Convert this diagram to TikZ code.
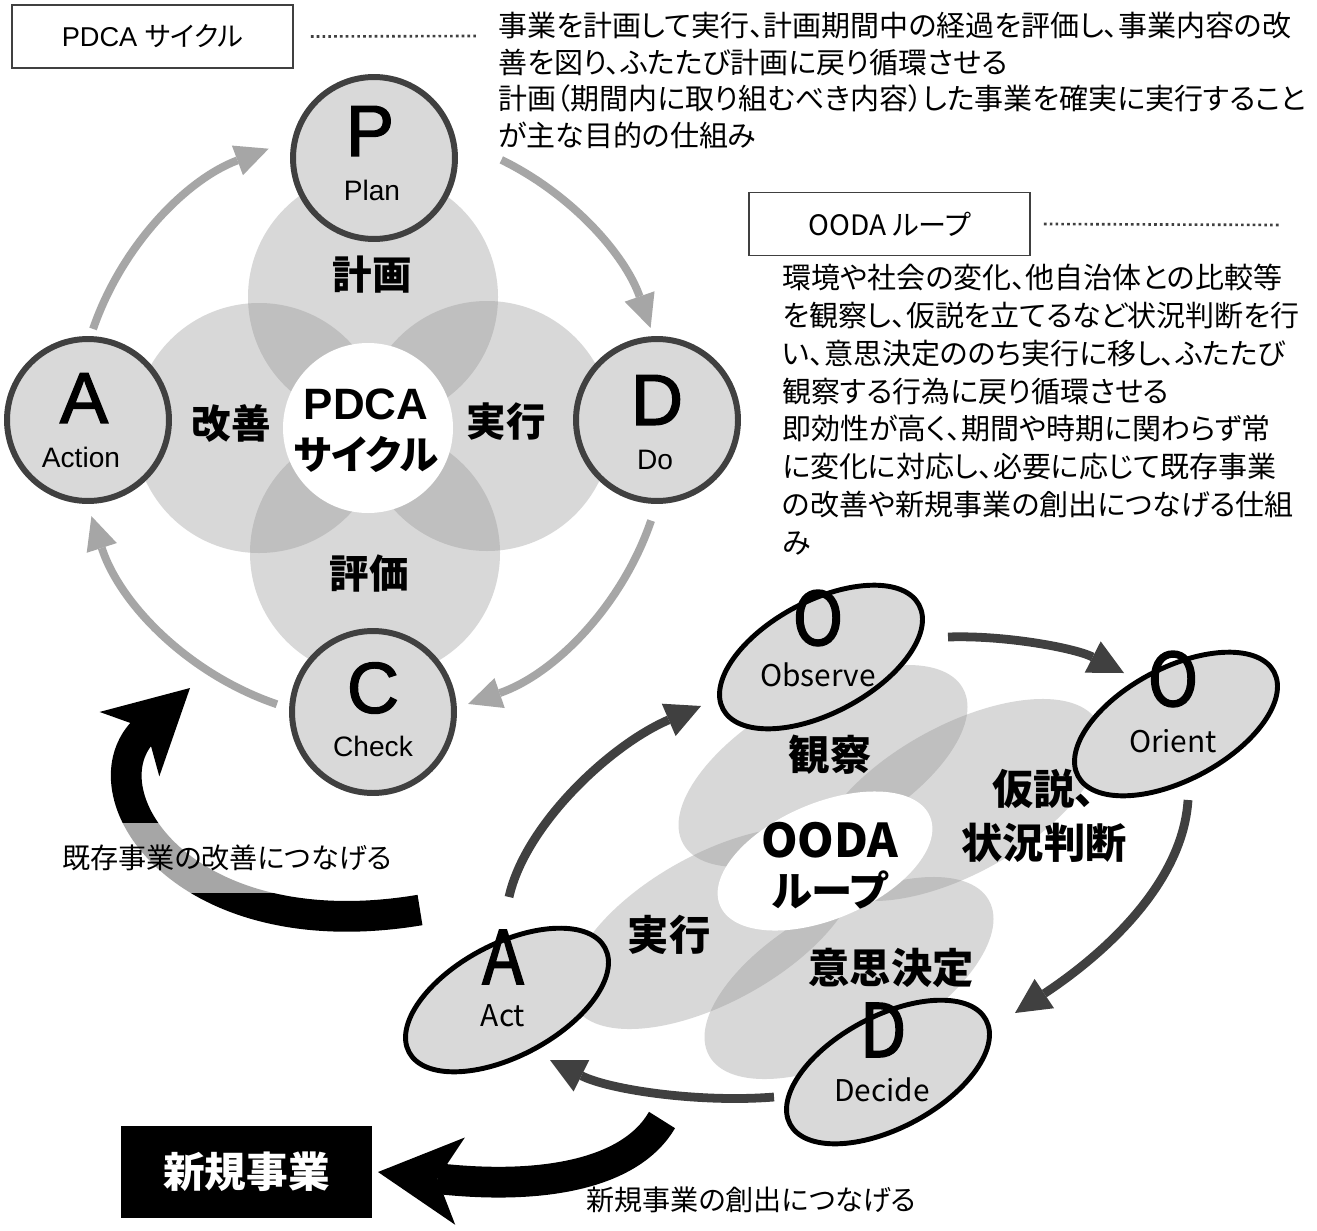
\documentclass[tikz,border=0pt]{standalone}
\usepackage{fontspec}
\usepackage{graphicx}
\usetikzlibrary{shapes.geometric,arrows.meta,calc}
\newfontfamily\jp{Noto Sans CJK JP}[RawFeature=+palt]
\newfontfamily\ar{Liberation Sans}
\newfontfamily\arfb{Liberation Sans}[FakeBold=2]
\newfontfamily\src{Noto Sans CJK JP}
\newfontfamily\srcfb{Noto Sans CJK JP}[FakeBold=2]
\newcommand\setfs[2]{\fontsize{#1}{#2}\selectfont}
\definecolor{dg}{HTML}{404040}
\definecolor{lg}{HTML}{D9D9D9}
\definecolor{ag}{HTML}{A6A6A6}
\begin{document}
\begin{tikzpicture}[x=0.02cm,y=-0.02cm,
  petal/.style={fill=black!44, fill opacity=0.34},
  pcirc/.style={circle, draw=dg, line width=3.4pt, fill=lg, minimum size=3.24cm, inner sep=0pt},
  oell/.style={ellipse, draw=black, line width=2.8pt, fill=lg, minimum width=4.44cm, minimum height=2.24cm, inner sep=0pt, rotate=28},
  parrow/.style={draw=ag, line width=4.5pt, -{Triangle[length=19pt,width=18pt,line width=0pt]}},
  oarrow/.style={draw=dg, line width=5pt, -{Triangle[length=20pt,width=20pt,line width=0pt]}},
  barrow/.style={draw=black, line width=17.5pt, -{Stealth[length=47pt,width=50pt,inset=13pt,line width=0pt]}},
  tbox/.style={draw=dg, line width=1.1pt, minimum width=5.62cm, minimum height=1.26cm, inner sep=0pt},
  dots/.style={draw=dg, line width=1.5pt, dash pattern=on 1.5pt off 1.8pt},
  desc/.style={font=\jp\setfs{16.5}{20.8}, align=left, inner sep=0pt, anchor=north west},
  plab/.style={font=\jp\bfseries\setfs{22.5}{27}, inner sep=0pt},
  big/.style={font=\arfb\setfs{41}{43}, inner sep=0pt},
  small/.style={font=\ar\setfs{16}{18}, inner sep=0pt},
  obig/.style={font=\srcfb\setfs{42}{45}, inner sep=0pt},
  osmall/.style={font=\src\setfs{17}{19}, inner sep=0pt},
  alab/.style={font=\jp\setfs{16}{19}, inner sep=0pt},
]
\fill[white] (0,0) rectangle (1317,1230);
\useasboundingbox (0,0) rectangle (1317,1230);

% ---------- headers ----------
\node[tbox] (pdcabox) at (152.5,36.5) {\setfs{15.5}{18}\ar PDCA {\jp サイクル}};
\coordinate (d1b) at (478,36);
\draw[dots] ($(pdcabox.east)+(17,0)$) -- (d1b);
\node[desc] (pdcatext) at (498,12) {事業を計画して実行、計画期間中の経過を評価し、事業内容の改\\善を図り、ふたたび計画に戻り循環させる\\計画（期間内に取り組むべき内容）した事業を確実に実行すること\\が主な目的の仕組み};

\node[tbox] (oodabox) at (889.5,224) {\setfs{16}{18}\src OODA {\jp ループ}};
\coordinate (d2b) at (1279,225);
\draw[dots] ($(oodabox.east)+(13,0)$) -- (d2b);
\node[desc, font=\jp\setfs{16.5}{21.5}] (oodatext) at (782,264) {環境や社会の変化、他自治体との比較等\\を観察し、仮説を立てるなど状況判断を行\\い、意思決定ののち実行に移し、ふたたび\\観察する行為に戻り循環させる\\即効性が高く、期間や時期に関わらず常\\に変化に対応し、必要に応じて既存事業\\の改善や新規事業の創出につなげる仕組\\み};

% ---------- PDCA ----------
\fill[petal] (373,297) circle[radius=125];
\fill[petal] (487,426) circle[radius=125];
\fill[petal] (375,553) circle[radius=125];
\fill[petal] (259,428) circle[radius=125];
\fill[white] (368,428) circle[radius=85];
\node[plab] (lplan) at (372,275) {計画};
\node[plab] (ldo) at (506,422) {実行};
\node[plab] (lcheck) at (369,574) {評価};
\node[plab] (lact) at (231,424) {改善};
\node[align=center, inner sep=0pt, font=\jp\bfseries\setfs{22.5}{28.3}] (pdcac) at (366,431) {{\ar\bfseries\setfs{25}{28.3}PDCA}\\サイクル};

\coordinate (pc) at (372,425);
\draw[parrow] ([shift={(199:295)}]pc) arc[start angle=199, end angle=249.5, radius=295];
\draw[parrow] ([shift={(296:295)}]pc) arc[start angle=296, end angle=340.8, radius=295];
\draw[parrow] ([shift={(18.9:295)}]pc) arc[start angle=18.9, end angle=71, radius=295];
\draw[parrow] ([shift={(108.8:295)}]pc) arc[start angle=108.8, end angle=162, radius=295];

\node[pcirc] (P) at (374,158) {};
\node[pcirc] (D) at (657,420) {};
\node[pcirc] (C) at (373,712) {};
\node[pcirc] (A) at (88,420) {};
\node[big] (Pl) at (370,131) {P};
\node[small] (Pn) at (372,190) {Plan};
\node[big] (Dl) at (657,400) {D};
\node[small] (Dn) at (655,460) {Do};
\node[big] (Cl) at (373,688) {C};
\node[small] (Cn) at (373,746) {Check};
\node[big] (Al) at (84,398) {A};
\node[small] (An) at (81,457) {Action};

% ---------- OODA ----------
\fill[petal, rotate around={29:(823,766)}] (823,766) ellipse[x radius=160, y radius=74];
\fill[petal, rotate around={29:(849,978)}] (849,978) ellipse[x radius=160, y radius=74];
\fill[petal, rotate around={29:(714,928)}] (714,928) ellipse[x radius=160, y radius=74];
\fill[petal, rotate around={29:(958,800)}] (958,800) ellipse[x radius=160, y radius=74];
\fill[white, rotate around={23:(825,861)}] (825,861) ellipse[x radius=114, y radius=58];
\node[plab, font=\jp\bfseries\setfs{23.5}{31}] (lobs) at (830,755) {観察};
\node[plab, font=\jp\bfseries\setfs{23.5}{31}, align=center] (lori) at (1044,816) {仮説、\\状況判断};
\node[plab, font=\jp\bfseries\setfs{23.5}{31}] (lex) at (669,935) {実行};
\node[plab, font=\jp\bfseries\setfs{23.5}{31}] (ldec) at (891,968) {意思決定};
\node[align=center, inner sep=0pt, font=\jp\bfseries\setfs{23.5}{27.8}] (oodac) at (830,866) {{\src\bfseries\setfs{26.5}{27.8}OODA}\\ループ};

\node[oell] (obs) at (821,657) {};
\node[oell] (ori) at (1176,724) {};
\node[oell] (act) at (507,1000) {};
\node[oell] (dec) at (888,1072) {};
\node[obig] (obsl) at (818,618) {\scalebox{0.93}[1]{O}};
\node[osmall] (obsn) at (818,675) {Observe};
\node[obig] (oril) at (1173,679) {\scalebox{0.93}[1]{O}};
\node[osmall] (orin) at (1173,741) {Orient};
\node[obig] (actl) at (503,957) {\scalebox{0.93}[1]{A}};
\node[osmall] (actn) at (503,1016) {Act};
\node[obig] (decl) at (883,1030) {\scalebox{0.93}[1]{D}};
\node[osmall] (decn) at (882,1090) {Decide};

\coordinate (a1s) at (509,897); \coordinate (a1e) at (701,706);
\coordinate (a2s) at (948,637); \coordinate (a2e) at (1124,673);
\coordinate (a3s) at (1188,800); \coordinate (a3e) at (1015,1013);
\coordinate (a4s) at (774,1097); \coordinate (a4e) at (550,1060);
\draw[oarrow] (a1s) .. controls (525,825) and (610,745) .. (a1e);
\draw[oarrow] (a2s) .. controls (1005,635) and (1075,648) .. (a2e);
\draw[oarrow] (a3s) .. controls (1183,880) and (1110,950) .. (a3e);
\draw[oarrow] (a4s) .. controls (700,1103) and (610,1090) .. (a4e);

% ---------- black arrows ----------
\coordinate (b1s) at (420,910); \coordinate (b1e) at (190,688);
\draw[barrow] (b1s) .. controls (180,950) and (80,790) .. (b1e);
\node[alab, fill=white, fill opacity=0.65, text opacity=1, inner xsep=0pt, minimum height=1.4cm] (lab1) at (227,858) {既存事業の改善につなげる};

\node[fill=black, text=white, font=\jp\bfseries\setfs{23.7}{27}, minimum width=5.02cm, minimum height=1.84cm, inner sep=0pt] (new) at (246.5,1172) {新規事業};
\coordinate (b2s) at (662,1120);
\draw[barrow] (b2s) .. controls (630,1175) and (540,1190) .. (new.east -| 378,1190);
\node[alab] (lab2) at (751,1200) {新規事業の創出につなげる};
\end{tikzpicture}
\end{document}
